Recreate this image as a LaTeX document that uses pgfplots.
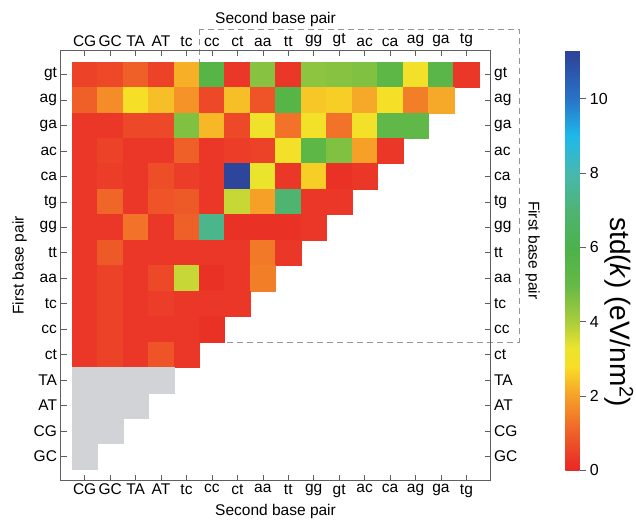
\documentclass[border=0pt]{standalone}
\usepackage{fontspec}
\setmainfont{Liberation Sans}
\usepackage{pgfplots}
\usepackage{pgfplotstable}
\pgfplotsset{compat=1.18}
\definecolor{graycell}{RGB}{210,211,214}
\definecolor{framec}{RGB}{95,95,95}
\definecolor{dashc}{RGB}{150,150,150}

\pgfplotstableread{
x y v
0 0 0.5
1 0 0.6
2 0 1.0
3 0 0.5
4 0 2.2
5 0 5.5
6 0 0.3
7 0 4.5
8 0 0.3
9 0 4.4
10 0 4.5
11 0 4.6
12 0 5.3
13 0 3.0
14 0 5.4
15 0 0.3
0 1 1.0
1 1 1.7
2 1 2.9
3 1 2.4
4 1 1.8
5 1 0.6
6 1 2.4
7 1 0.8
8 1 5.5
9 1 2.5
10 1 2.6
11 1 2.1
12 1 2.9
13 1 1.5
14 1 2.1
0 2 0.3
1 2 0.3
2 2 0.6
3 2 0.6
4 2 4.6
5 2 2.3
6 2 0.6
7 2 3.1
8 2 1.3
9 2 3.0
10 2 1.3
11 2 3.0
12 2 5.2
13 2 5.2
0 3 0.3
1 3 0.5
2 3 0.3
3 3 0.3
4 3 1.0
5 3 0.3
6 3 0.4
7 3 0.5
8 3 3.0
9 3 5.3
10 3 4.6
11 3 2.0
12 3 0.3
0 4 0.3
1 4 0.4
2 4 0.3
3 4 0.7
4 4 0.4
5 4 0.3
6 4 11.2
7 4 3.3
8 4 0.3
9 4 2.6
10 4 0.2
11 4 0.3
0 5 0.3
1 5 1.1
2 5 0.3
3 5 0.8
4 5 0.9
5 5 0.3
6 5 3.7
7 5 2.0
8 5 6.9
9 5 0.3
10 5 0.3
0 6 0.3
1 6 0.3
2 6 1.3
3 6 0.3
4 6 1.0
5 6 7.4
6 6 0.2
7 6 0.2
8 6 0.2
9 6 0.3
0 7 0.3
1 7 0.9
2 7 0.3
3 7 0.3
4 7 0.3
5 7 0.3
6 7 0.3
7 7 1.4
8 7 0.3
0 8 0.3
1 8 0.5
2 8 0.3
3 8 0.6
4 8 3.7
5 8 0.2
6 8 0.3
7 8 1.5
0 9 0.3
1 9 0.5
2 9 0.3
3 9 0.4
4 9 0.3
5 9 0.3
6 9 0.3
0 10 0.3
1 10 0.5
2 10 0.3
3 10 0.3
4 10 0.3
5 10 0.2
0 11 0.3
1 11 0.5
2 11 0.3
3 11 0.8
4 11 0.3
}\heat

\pgfplotstableread{
x y
0 12
1 12
2 12
3 12
0 13
1 13
2 13
0 14
1 14
0 15
}\grayc

\begin{document}
\begin{tikzpicture}
\useasboundingbox (-60.5pt,-42.5pt) rectangle (575.5pt,480.5pt);
\pgfplotsset{
 base/.style={
  x=25.45pt, y=25.45pt, y dir=reverse,
  xmin=-0.95, xmax=15.95, ymin=-0.95, ymax=15.95,
  xtick={0,...,15}, ytick={0,...,15},
  xticklabels={CG,GC,TA,AT,tc,cc,ct,aa,tt,gg,gt,ac,ca,ag,ga,tg},
  yticklabels={gt,ag,ga,ac,ca,tg,gg,tt,aa,tc,cc,ct,TA,AT,CG,GC},
  tick align=inside, major tick length=6pt,
  tick style={framec, line width=0.6pt},
  axis line style={framec, line width=0.6pt},
  tick label style={font=\fontsize{15.5}{18}\selectfont},
  label style={font=\fontsize{15.5}{18}\selectfont},
  anchor=south west, at={(0,0)},
 }
}
\begin{axis}[base, clip=false,
  xlabel={Second base pair}, ylabel={First base pair},
  colormap={stdk}{rgb255(0cm)=(233,38,38) rgb255(1cm)=(239,95,40) rgb255(2cm)=(246,160,40) rgb255(2.8cm)=(248,222,38) rgb255(3.3cm)=(235,228,45) rgb255(4cm)=(170,205,60) rgb255(5cm)=(100,185,70) rgb255(6cm)=(75,178,75) rgb255(7cm)=(78,180,115) rgb255(8cm)=(70,185,175) rgb255(9cm)=(30,185,235) rgb255(10cm)=(40,115,200) rgb255(11.3cm)=(45,65,150)},
  point meta min=0, point meta max=11.3,
  colorbar,
  colorbar style={
    at={(parent axis.north east)}, anchor=north west, xshift=66.3pt,
    scale only axis, width=21pt, height=420pt,
    ytick={0,2,...,10}, ytick pos=right, yticklabel pos=right,
    tick align=inside, major tick length=6pt,
    tick style={framec, line width=0.6pt},
    axis line style={draw=none},
    yticklabel style={font=\fontsize{16}{19}\selectfont},
    /pgf/number format/assume math mode=true,
  },
]
\draw[dashc, line width=0.6pt, dash pattern=on 6pt off 4pt] (axis cs:4.5,-1.78) rectangle (axis cs:17.07,10.5);
\addplot[scatter, only marks, mark=square*, mark size=12.75pt,
  scatter/use mapped color={draw=mapped color, fill=mapped color},
  point meta=explicit] table[x=x, y=y, meta=v] {\heat};
\addplot[only marks, mark=square*, mark size=12.75pt,
  mark options={fill=graycell, draw=graycell}] table[x=x, y=y] {\grayc};
\node[rotate=-90, font=\fontsize{15.5}{18}\selectfont] at (axis cs:17.6,6.9) {First base pair};
\node[rotate=-90, font=\fontsize{28}{32}\selectfont] at (axis cs:21.0,9.34) {std(\textit{k}) (eV/nm\textsuperscript{2})};
\end{axis}
\begin{axis}[base, xticklabel pos=right, yticklabel pos=right,
  xlabel={Second base pair}]
\addplot[draw=none] coordinates {(0,0)};
\end{axis}
\end{tikzpicture}
\end{document}
